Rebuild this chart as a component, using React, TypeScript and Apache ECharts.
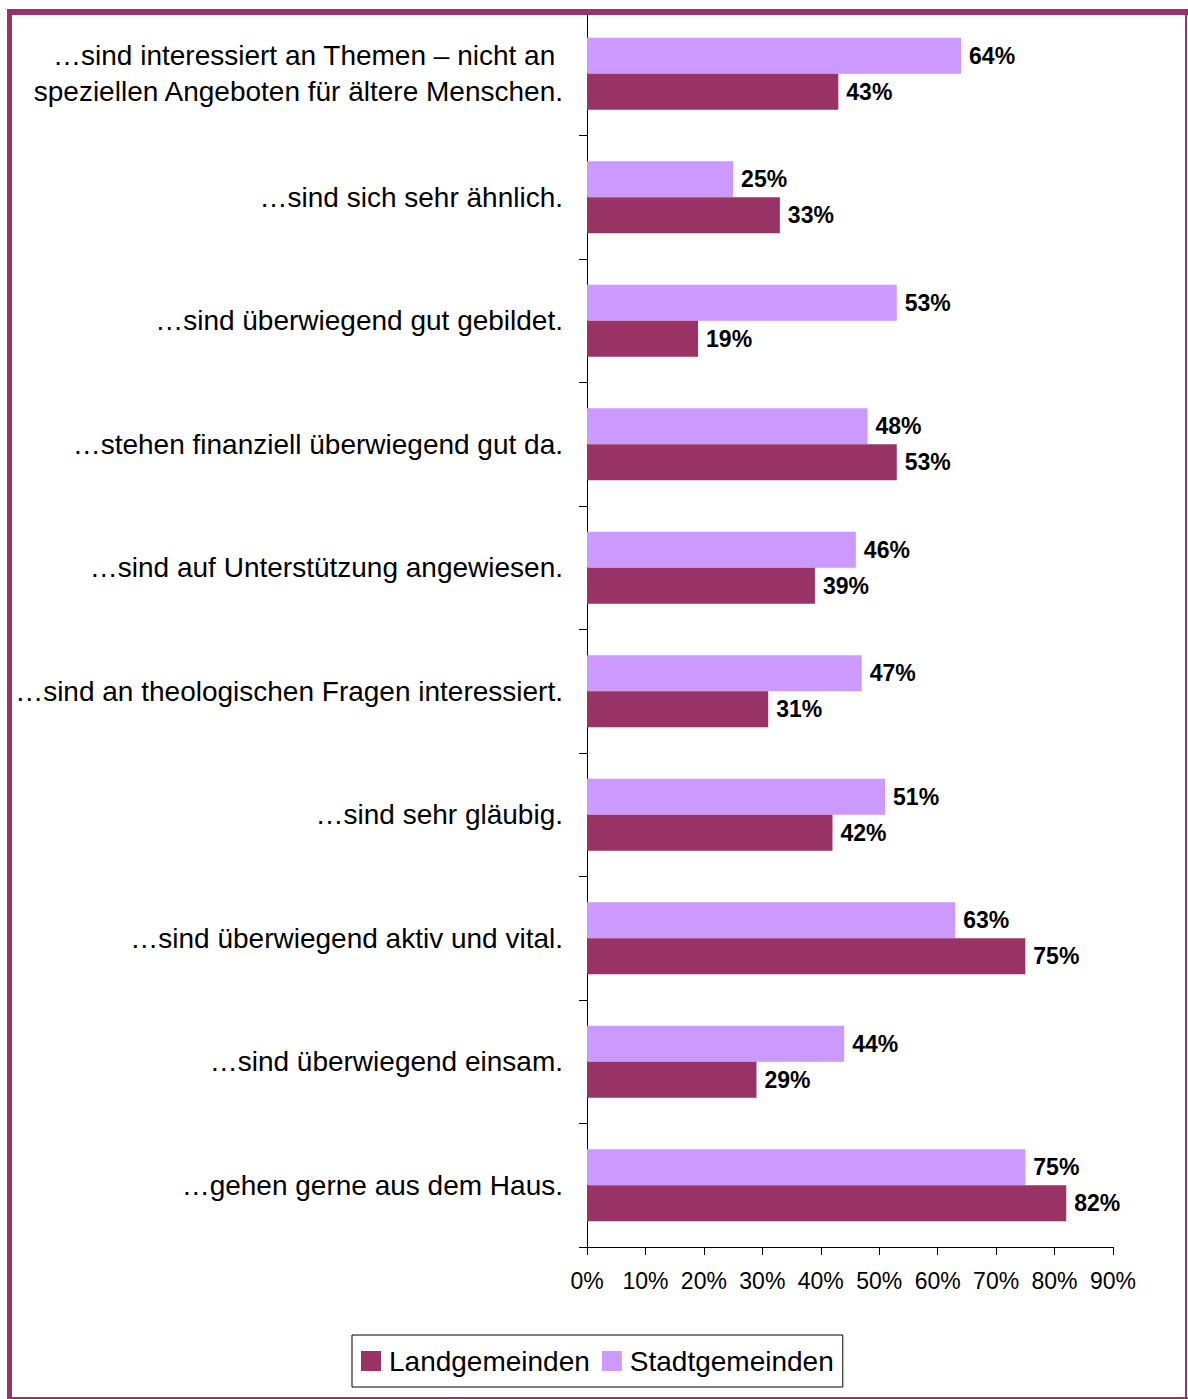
import React, { useEffect, useRef } from "react";
import * as echarts from "echarts";

const categories = [
  "…sind interessiert an Themen – nicht an \nspeziellen Angeboten für ältere Menschen.",
  "…sind sich sehr ähnlich.",
  "…sind überwiegend gut gebildet.",
  "…stehen finanziell überwiegend gut da.",
  "…sind auf Unterstützung angewiesen.",
  "…sind an theologischen Fragen interessiert.",
  "…sind sehr gläubig.",
  "…sind überwiegend aktiv und vital.",
  "…sind überwiegend einsam.",
  "…gehen gerne aus dem Haus.",
];
const stadtgemeinden = [64, 25, 53, 48, 46, 47, 51, 63, 44, 75];
const landgemeinden = [43, 33, 19, 53, 39, 31, 42, 75, 29, 82];
const xTicks = { min: 0, max: 90, interval: 10 };

const FRAME = "#993366";
const LAND = "#993366";
const STADT = "#CC99FF";
const FONT = "'Liberation Sans', Arial, sans-serif";

export default function App() {
  const ref = useRef<HTMLDivElement>(null);
  useEffect(() => {
    document.body.style.margin = "0";
    const chart = echarts.init(ref.current!, undefined, { renderer: "svg" });
    const valueLabel = {
      show: true,
      position: "right",
      distance: 8,
      formatter: "{c}%",
      color: "#000",
      fontWeight: "bold",
      fontSize: 23,
      fontFamily: FONT,
    };
    chart.setOption({
      animation: false,
      backgroundColor: "#fff",
      textStyle: { fontFamily: FONT },
      grid: { left: 587, right: 75, top: 12, bottom: 152, containLabel: false },
      xAxis: {
        type: "value",
        min: xTicks.min,
        max: xTicks.max,
        interval: xTicks.interval,
        axisLine: { show: true, lineStyle: { color: "#000", width: 1 } },
        axisTick: { show: true, length: 8, lineStyle: { color: "#000" } },
        splitLine: { show: false },
        axisLabel: {
          formatter: "{value}%",
          color: "#000",
          fontSize: 23,
          fontFamily: FONT,
          margin: 22,
        },
      },
      yAxis: {
        type: "category",
        data: categories,
        inverse: true,
        axisLine: { show: true, lineStyle: { color: "#000", width: 1 } },
        axisTick: { show: true, length: 8, lineStyle: { color: "#000" } },
        axisLabel: {
          color: "#000",
          fontSize: 28,
          fontFamily: FONT,
          margin: 24,
          lineHeight: 36,
          align: "right",
        },
      },
      legend: {
        data: ["Landgemeinden", "Stadtgemeinden"],
        left: 352,
        top: 1335,
        orient: "horizontal",
        itemWidth: 20,
        itemHeight: 20,
        itemGap: 12,
        icon: "rect",
        borderColor: "#000",
        borderWidth: 1,
        padding: [12, 9, 12, 9],
        textStyle: {
          color: "#000",
          fontSize: 28,
          fontFamily: FONT,
          padding: [0, 0, 0, 3],
        },
      },
      series: [
        {
          name: "Stadtgemeinden",
          type: "bar",
          data: stadtgemeinden,
          barWidth: 36,
          barGap: "0%",
          itemStyle: { color: STADT },
          label: valueLabel,
        },
        {
          name: "Landgemeinden",
          type: "bar",
          data: landgemeinden,
          barWidth: 36,
          barGap: "0%",
          itemStyle: { color: LAND },
          label: valueLabel,
        },
      ],
      graphic: [
        { type: "rect", shape: { x: 7, y: 9, width: 5, height: 1390 }, style: { fill: FRAME }, z: 100 },
        { type: "rect", shape: { x: 7, y: 9, width: 1181, height: 6 }, style: { fill: FRAME }, z: 100 },
        { type: "rect", shape: { x: 1185, y: 9, width: 2, height: 1390 }, style: { fill: FRAME }, z: 100 },
        { type: "rect", shape: { x: 7, y: 1397, width: 1181, height: 2 }, style: { fill: FRAME }, z: 100 },
      ],
    });
    return () => chart.dispose();
  }, []);
  return <div ref={ref} style={{ width: 1188, height: 1399 }} />;
}
